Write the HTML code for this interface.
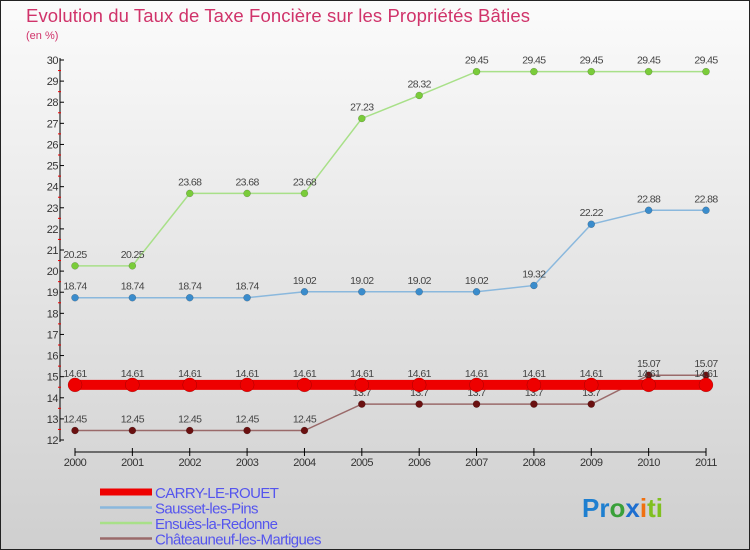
<!DOCTYPE html>
<html><head><meta charset="utf-8"><style>
body{margin:0}
svg{display:block;font-family:"Liberation Sans",sans-serif}
</style></head><body>
<svg width="750" height="550" xmlns="http://www.w3.org/2000/svg">
<defs><linearGradient id="bg" x1="0" y1="0" x2="0" y2="1"><stop offset="0" stop-color="#fbfbfb"/><stop offset="1" stop-color="#cfcfcf"/></linearGradient></defs>
<rect x="0.5" y="0.5" width="749" height="549" fill="url(#bg)" stroke="#222"/>
<text x="26" y="22" font-size="18.5" fill="#d0336a" letter-spacing="0.1">Evolution du Taux de Taxe Foncière sur les Propriétés Bâties</text>
<text x="26" y="39" font-size="11" fill="#d0336a">(en %)</text>
<g id="axes"></g>
<g id="series"></g>
<g id="legend"></g>
<text x="582" y="517" font-size="26" font-weight="bold"><tspan fill="#1e7fd0">Pr</tspan><tspan fill="#3aa03a">o</tspan><tspan fill="#1e6fd0">x</tspan><tspan fill="#f07010">i</tspan><tspan fill="#80c020">ti</tspan></text>
</svg>
<script>
const years=[2000,2001,2002,2003,2004,2005,2006,2007,2008,2009,2010,2011];
const yTicks=[12,13,14,15,16,17,18,19,20,21,22,23,24,25,26,27,28,29,30];
const carry=[14.61,14.61,14.61,14.61,14.61,14.61,14.61,14.61,14.61,14.61,14.61,14.61];
const sausset=[18.74,18.74,18.74,18.74,19.02,19.02,19.02,19.02,19.32,22.22,22.88,22.88];
const ensues=[20.25,20.25,23.68,23.68,23.68,27.23,28.32,29.45,29.45,29.45,29.45,29.45];
const chateau=[12.45,12.45,12.45,12.45,12.45,13.7,13.7,13.7,13.7,13.7,15.07,15.07];
const names=["CARRY-LE-ROUET","Sausset-les-Pins","Ensuès-la-Redonne","Châteauneuf-les-Martigues"];
const NS="http://www.w3.org/2000/svg";
const X=i=>75+i*(706-75)/(years.length-1);
const Y=v=>440-(v-12)*(380/18);
function mk(tag,attrs,parent,txt){const e=document.createElementNS(NS,tag);for(const k in attrs)e.setAttribute(k,attrs[k]);if(txt!=null)e.textContent=txt;parent.appendChild(e);return e;}
const ax=document.getElementById('axes');
let e=mk('line',{x1:60,y1:Y(30)-2,x2:60,y2:Y(12)+2,stroke:'#000'},ax);

yTicks.forEach(t=>{
 mk('line',{x1:60,x2:64,y1:Y(t),y2:Y(t),stroke:'#000'},ax);
 if(t<30) mk('line',{x1:58,x2:61,y1:Y(t+0.5),y2:Y(t+0.5),stroke:'#e00'},ax);
 let l=mk('text',{x:58,y:Y(t)+4,'font-size':11,'text-anchor':'end',fill:'#333','letter-spacing':'-0.5'},ax,t);
 
});
e=mk('line',{x1:X(0),x2:X(11),y1:452,y2:452,stroke:'#000'},ax);

years.forEach((y,i)=>{
 mk('line',{x1:X(i),x2:X(i),y1:448,y2:456,stroke:'#000'},ax);
 let l=mk('text',{x:X(i),y:466,'font-size':11,'text-anchor':'middle',fill:'#333','letter-spacing':'-0.5'},ax,y);
 
});
const sg=document.getElementById('series');
function series(vals,col,dot,w,r,name){
 const g=mk('g',{},sg);
 
 mk('polyline',{points:vals.map((v,i)=>X(i)+','+Y(v)).join(' '),fill:'none',stroke:col,'stroke-width':w},g);
 vals.forEach((v,i)=>{
  const c=mk('circle',{cx:X(i),cy:Y(v),r:r,fill:dot,stroke:'rgba(0,0,0,0.3)','stroke-width':0.5},g);
  
  const t=mk('text',{x:X(i),y:Y(v)-8,'font-size':10.5,'text-anchor':'middle',fill:'#444','letter-spacing':'-0.6'},g,String(v));
  
 });
}
series(chateau,'#9a6a6a','#6a1010',1.5,3.5,'chateauneuf');
series(carry,'#ee0000','#ee0000',10,7,'carry');
series(sausset,'#8ab8dd','#3a8ccc',1.5,3.5,'sausset');
series(ensues,'#a8e088','#7acc3a',1.5,3.5,'ensues');
const lg=document.getElementById('legend');
const lc=['#ee0000','#8ab8dd','#a8e088','#9a6a6a'],lw=[7,2.5,2.5,2.5];
names.forEach((n,i)=>{
 const y=492+i*15.5;
 mk('line',{x1:100,x2:152,y1:y,y2:y,stroke:lc[i],'stroke-width':lw[i]},lg);
 const t=mk('text',{x:155,y:y+6,'font-size':15,fill:'#5555ee','letter-spacing':'-0.6'},lg,n);
 
});
</script>
</body></html>
